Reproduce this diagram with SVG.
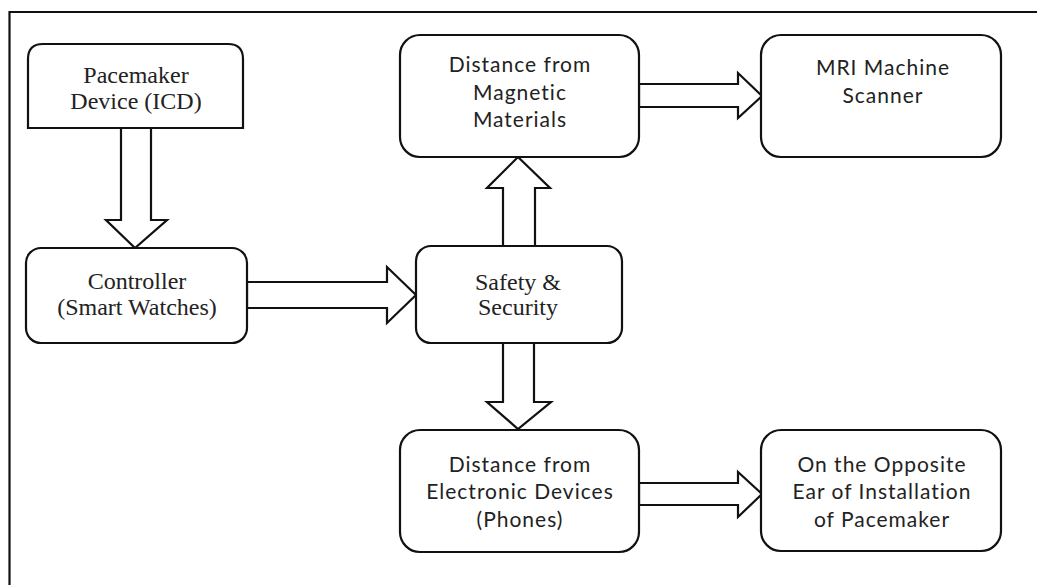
<svg xmlns="http://www.w3.org/2000/svg" width="1037" height="585" viewBox="0 0 1037 585">
<style>
.box{fill:#fff;stroke:#111;stroke-width:2.2}
.arr{fill:#fff;stroke:#111;stroke-width:2.2;stroke-linejoin:miter}
.frame{fill:none;stroke:#111;stroke-width:2.2}
.serif{font-family:"Liberation Serif","Times New Roman",serif;font-size:24px;fill:#222;text-anchor:middle}
.sans{font-family:"Lato","Liberation Sans",sans-serif;font-size:21px;fill:#222;text-anchor:middle;letter-spacing:1px}
</style>
<rect width="1037" height="585" fill="#fff"/>
<path class="frame" d="M9.5,585 L9.5,12 L1037,12"/>
<g id="connectors">
<polygon class="arr" points="121,128 151,128 151,220 167,220 135,248 106,220 121,220"/>
<polygon class="arr" points="247,282 387,282 387,267 416,295 387,323 387,308 247,308"/>
<polygon class="arr" points="503,246 503,188 487,188 518,157 550,188 535,188 535,246"/>
<polygon class="arr" points="639,84 738,84 738,73 762,96 738,118 738,107 639,107"/>
<polygon class="arr" points="503,343 534,343 534,402 551,402 518,429 487,402 503,402"/>
<polygon class="arr" points="639,483 738,483 738,472 762,494 738,517 738,505 639,505"/>
</g>
<g id="pacemaker">
<path class="box" d="M28,128 L28,59 Q28,44 43,44 L228,44 Q243,44 243,59 L243,128 Z"/>
<text class="serif" x="136" y="83">Pacemaker</text>
<text class="serif" x="136" y="109">Device (ICD)</text>
</g>
<g id="controller">
<rect class="box" x="26" y="248" width="221" height="95" rx="15"/>
<text class="serif" x="137" y="289">Controller</text>
<text class="serif" x="137" y="315">(Smart Watches)</text>
</g>
<g id="safety">
<rect class="box" x="416" y="246" width="206" height="97" rx="15"/>
<text class="serif" x="518" y="290">Safety &amp;</text>
<text class="serif" x="518" y="315">Security</text>
</g>
<g id="magnetic">
<rect class="box" x="400" y="35" width="239" height="122" rx="20"/>
<text class="sans" x="520" y="72">Distance from</text>
<text class="sans" x="520" y="100">Magnetic</text>
<text class="sans" x="520" y="127">Materials</text>
</g>
<g id="mri">
<rect class="box" x="761" y="35" width="240" height="122" rx="20"/>
<text class="sans" x="883" y="75">MRI Machine</text>
<text class="sans" x="883" y="103">Scanner</text>
</g>
<g id="electronic">
<rect class="box" x="400" y="430" width="239" height="122" rx="20"/>
<text class="sans" x="520" y="472">Distance from</text>
<text class="sans" x="520" y="499">Electronic Devices</text>
<text class="sans" x="520" y="527">(Phones)</text>
</g>
<g id="opposite">
<rect class="box" x="761" y="430" width="240" height="121" rx="20"/>
<text class="sans" x="882" y="472">On the Opposite</text>
<text class="sans" x="882" y="499">Ear of Installation</text>
<text class="sans" x="882" y="527">of Pacemaker</text>
</g>
</svg>
